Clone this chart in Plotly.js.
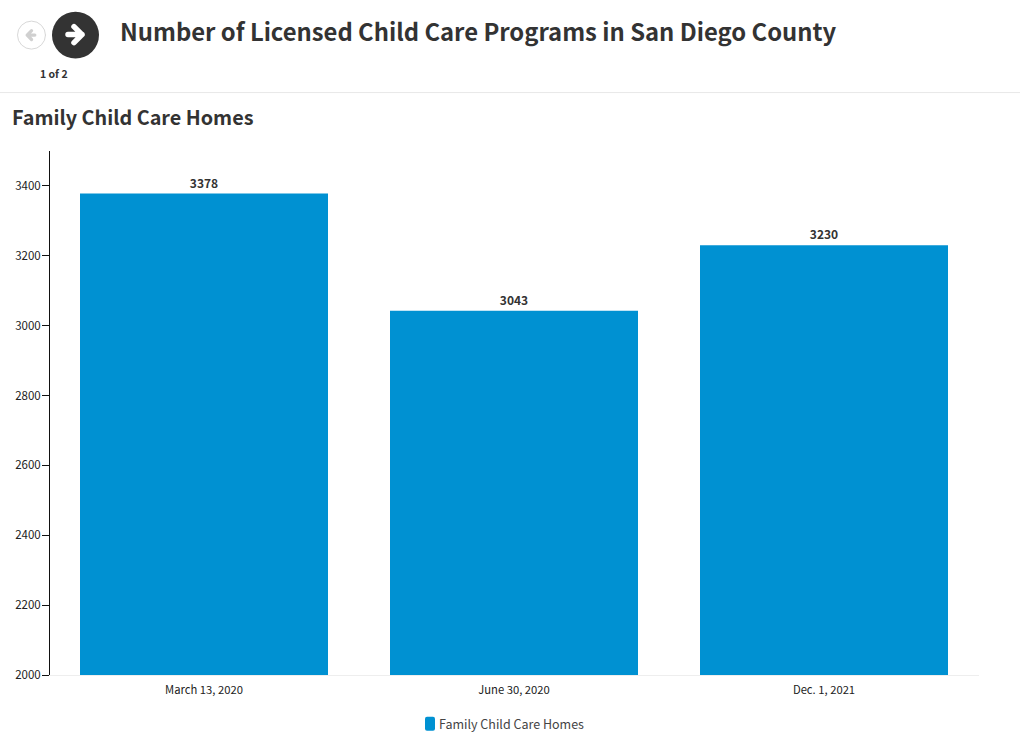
<!DOCTYPE html>
<html><head><meta charset="utf-8">
<script src="https://cdn.plot.ly/plotly-3.0.1.min.js"></script>
<style>html,body{margin:0;padding:0;background:#fff;overflow:hidden}
.shapelayer path{stroke-linejoin:round;stroke-linecap:round}
.ylines-above,.yaxislayer-above{transform:translateX(1px)}</style>
</head><body><div id="chart" style="width:1020px;height:743px"></div>
<script>
const categories = ["March 13, 2020", "June 30, 2020", "Dec. 1, 2021"];
const homes = [3378, 3043, 3230];
const yTicks = [2000, 2200, 2400, 2600, 2800, 3000, 3200, 3400];
const seriesName = "Family Child Care Homes";
const pageTitle = "Number of Licensed Child Care Programs in San Diego County";
const subTitle = "Family Child Care Homes";
const pagerText = "1 of 2";

const W = 1020, H = 743, L = 49, R = 41, T = 151, B = 67.5;
const FONT = '"Noto Sans CJK SC", "Noto Sans", sans-serif';
const px = x => (x - L) / (W - L - R);
const py = y => 1 - (y - T) / (H - T - B);
// Pager arrow icon as open strokes: shaft, then chevron. dir = 1 right, -1 left.
function arrowPath(cx, cy, s, dir) {
  const P = (x, y) => px(cx + dir * x * s) + ',' + py(cy + y * s);
  return 'M' + P(-7, 0) + ' L' + P(7, 0) + ' M' + P(-1, -8) + ' L' + P(7, 0) + ' L' + P(-1, 8);
}
const circle = (cx, cy, r, fill, line) => ({type:'circle', xref:'paper', yref:'paper',
  x0:px(cx-r), x1:px(cx+r), y0:py(cy+r), y1:py(cy-r), fillcolor:fill, line:line});

const text = (t, x, y, size, weight, color) => ({text:t, xref:'paper', yref:'paper', x:px(x), y:py(y),
  xanchor:'left', yanchor:'middle', showarrow:false, font:{family:FONT, size:size, weight:weight, color:color}});

Plotly.newPlot('chart', [{
  type:'bar', x:categories, y:homes, name:seriesName,
  marker:{color:'#0091D2'},
  text:homes.map(String), textposition:'outside', cliponaxis:false,
  textfont:{family:FONT, size:12, weight:700, color:'#333333'},
  showlegend:true
}], {
  width:W, height:H, margin:{l:L, r:R, t:T, b:B, pad:0},
  paper_bgcolor:'#fff', plot_bgcolor:'#fff', bargap:0.2,
  font:{family:FONT, color:'#111'},
  xaxis:{type:'category', showline:true, linecolor:'#eeeeee', linewidth:1, ticks:'', ticklabelstandoff:4, tickfont:{size:11.25,color:'#222'}, showgrid:false, zeroline:false, fixedrange:true},
  yaxis:{range:[2000,3500], tickvals:yTicks, ticktext:yTicks.map(String), showline:true, linecolor:'#111', linewidth:1, ticks:'outside', ticklen:7, tickcolor:'#111', ticklabelstandoff:-1, tickfont:{size:11.5,color:'#222'}, showgrid:false, zeroline:false, fixedrange:true},
  showlegend:true,
  legend:{orientation:'h', xref:'container', yref:'container', x:0.4-9/W, xanchor:'left', y:1-724/H, yanchor:'middle', font:{family:FONT, size:12.5, color:'#444'}, itemclick:false},
  shapes:[
    {type:'line', xref:'paper', yref:'paper', x0:px(0), x1:px(1020), y0:py(92.5), y1:py(92.5), line:{color:'#e8e8e8', width:1}},
    circle(31.5,35,14,'#fff',{color:'#d8d8d8',width:1}),
    circle(75.5,35,23.5,'#333333',{width:0}),
    {type:'path', xref:'paper', yref:'paper', path:arrowPath(31,35,0.55,-1), fillcolor:'rgba(0,0,0,0)', line:{color:'#d0d0d0',width:3.2}},
    {type:'path', xref:'paper', yref:'paper', path:arrowPath(75,34.5,1,1), fillcolor:'rgba(0,0,0,0)', line:{color:'#ffffff',width:5.5}}
  ],
  annotations:[
    text(pageTitle,118,30,23.8,700,'#333333'),
    text(subTitle,9.6,116.5,19.8,700,'#333333'),
    text(pagerText,38.1,73,10.5,700,'#333333')
  ]
}, {displayModeBar:false, staticPlot:true}).then(gd => {
  // Rounded legend swatch placed 14px before the label, as in the original.
  const t = gd.querySelector('.legend .legendtext');
  const p = gd.querySelector('.legend .legendpoints path');
  if (t && p) {
    p.setAttribute('d', 'M-3,-7 H3 A2,2 0 0 1 5,-5 V5 A2,2 0 0 1 3,7 H-3 A2,2 0 0 1 -5,5 V-5 A2,2 0 0 1 -3,-7 Z');
    p.removeAttribute('transform');
    const a = t.getBoundingClientRect(), b = p.getBoundingClientRect();
    p.setAttribute('transform', 'translate(' + (a.left - 14 - b.left) + ',0)');
  }
});
</script></body></html>
